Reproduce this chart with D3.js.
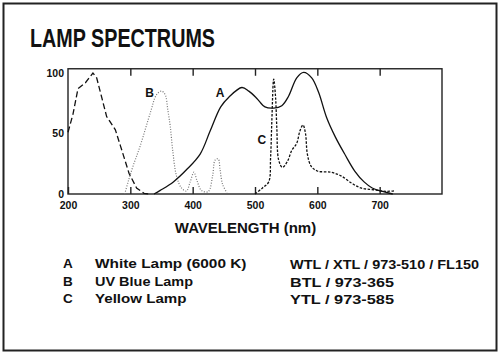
<!DOCTYPE html>
<html><head><meta charset="utf-8">
<script src="https://cdn.jsdelivr.net/npm/d3@7"></script>
<style>
html,body{margin:0;padding:0;background:#fff;}
svg{display:block;}
text{font-family:"Liberation Sans",Arial,Helvetica,sans-serif;font-weight:bold;fill:#111;}
</style></head>
<body><svg id="c" width="500" height="355"></svg>
<script>
// ---- data ----
const xTicks = [200, 300, 400, 500, 600, 700];
const xInnerTicks = [300, 400, 500, 600, 700];
const yTicks = [0, 50, 100];
const xDomain = [200, 800];
const yDomain = [0, 103.5];

// unlabeled short-wave lamp (long dashes)
const shortWave = [[200,51],[208,66],[216,87],[228,92],[240,100],[246,96],[254,80],[262,64],[276,53],[284,40],[298,17],[310,5],[322,0.5],[330,0]];
// B: UV Blue lamp (dotted)
const lampB = [[291,0],[297,11],[305,24],[316,40],[332,67],[342,82],[350,85],[356,82],[360,70],[364,56],[368,36],[374,15],[382,5],[390,2.5],[396,10],[402,18],[407,11],[414,3],[425,2],[432,15],[436,28],[441,29],[444,20],[448,8],[455,1]];
// A: White lamp (solid)
const lampA = [[338,0],[348,3],[369,10],[390,20],[412,33],[428,52],[445,72],[458,80],[479,88],[490,85],[503,79],[516,72],[530,71],[543,73],[554,81],[567,96],[578,100.5],[591,96],[602,84],[615,63],[629,47],[645,32],[660,19],[675,10],[688,5],[701,2.5],[721,0]];
// C: Yellow lamp (short dashes)
const lampC = [[500,0],[512,5],[522,10],[525,30],[527,60],[530,95],[533,80],[535,55],[538,28],[544,22],[552,27],[559,36],[567,42],[572,52],[577,57],[581,50],[584,33],[590,23],[600,19],[622,18],[638,15],[655,9],[670,5],[690,3.5],[710,2.2],[725,2.7]];

const curveLabels = [{t:"A", x:444, y:80}, {t:"B", x:331, y:80}, {t:"C", x:511, y:41}];

const legendKeys = ["A", "B", "C"];
const legendNames = ["White Lamp (6000 K)", "UV Blue Lamp", "Yellow Lamp"];
const legendCodes = ["WTL / XTL / 973-510 / FL150", "BTL / 973-365", "YTL / 973-585"];

// ---- drawing ----
const svg = d3.select("#c");
svg.append("rect").attr("x",3.5).attr("y",3.5).attr("width",493).attr("height",347)
  .attr("fill","none").attr("stroke","#222").attr("stroke-width",2);

svg.append("text").attr("x",30).attr("y",46.5).attr("font-size",26)
  .attr("textLength",185).attr("lengthAdjust","spacingAndGlyphs")
  .style("font-family","'Liberation Sans Narrow','Arial Narrow',sans-serif")
  .text("LAMP SPECTRUMS");

const x = d3.scaleLinear().domain(xDomain).range([68, 442]);
const y = d3.scaleLinear().domain([0,100]).range([194, 73]);

const g = svg.append("g");
// frame
g.append("rect").attr("x",x(xDomain[0])).attr("y",y(yDomain[1]))
  .attr("width",x(xDomain[1])-x(xDomain[0])).attr("height",y(0)-y(yDomain[1]))
  .attr("fill","none").attr("stroke","#222").attr("stroke-width",1.4);

// bottom axis (ticks inside)
const bx = g.append("g").attr("transform",`translate(0,${y(0)})`)
  .call(d3.axisBottom(x).tickValues(xTicks).tickSize(-7).tickPadding(15).tickFormat(d3.format("d")));
bx.select(".domain").remove();
bx.selectAll("line").attr("stroke","#222").attr("stroke-width",1.4);
bx.selectAll("text").attr("font-size",10.5).attr("fill","#111").attr("dy","0")
  .attr("y",15);
// top ticks
const tx = g.append("g").attr("transform",`translate(0,${y(yDomain[1])})`)
  .call(d3.axisTop(x).tickValues(xInnerTicks).tickSize(-7).tickFormat(""));
tx.select(".domain").remove();
tx.selectAll("line").attr("stroke","#222").attr("stroke-width",1.4);
// y labels
const ly = g.append("g").attr("transform",`translate(${x(xDomain[0])},0)`)
  .call(d3.axisLeft(y).tickValues(yTicks).tickSize(0).tickPadding(4).tickFormat(d3.format("d")));
ly.select(".domain").remove();
ly.selectAll("text").attr("font-size",10.5).attr("fill","#111").attr("dy","0.33em");

svg.append("text").attr("x",245.5).attr("y",232.5).attr("font-size",15)
  .attr("text-anchor","middle").text("WAVELENGTH (nm)");

const line = d3.line().x(d=>x(d[0])).y(d=>y(d[1])).curve(d3.curveCatmullRom.alpha(0.5));
const lineLin = d3.line().x(d=>x(d[0])).y(d=>y(d[1])).curve(d3.curveLinear);

g.append("path").attr("d",lineLin(shortWave)).attr("fill","none").attr("stroke","#111")
  .attr("stroke-width",1.3).attr("stroke-dasharray","6,3");
g.append("path").attr("d",line(lampB)).attr("fill","none").attr("stroke","#777")
  .attr("stroke-width",1.2).attr("stroke-dasharray","1,1.6");
g.append("path").attr("d",line(lampA)).attr("fill","none").attr("stroke","#111")
  .attr("stroke-width",1.3);
g.append("path").attr("d",line(lampC)).attr("fill","none").attr("stroke","#111")
  .attr("stroke-width",1.3).attr("stroke-dasharray","2.5,1.5");

g.selectAll(".cl").data(curveLabels).enter().append("text")
  .attr("x",d=>x(d.x)).attr("y",d=>y(d.y)).attr("font-size",12).attr("text-anchor","middle")
  .text(d=>d.t);

// legend
const rowY = [268.3, 285.5, 303.3];
const nameW = [151.5, 98, 91.5];
const codeW = [189, 104, 104];
legendKeys.forEach((k,i)=>{
  svg.append("text").attr("x",63).attr("y",rowY[i]).attr("font-size",13.5).text(k);
  svg.append("text").attr("x",95).attr("y",rowY[i]).attr("font-size",13.5)
    .attr("textLength",nameW[i]).attr("lengthAdjust","spacingAndGlyphs").text(legendNames[i]);
  svg.append("text").attr("x",290).attr("y",rowY[i]+1).attr("font-size",12.5)
    .attr("textLength",codeW[i]).attr("lengthAdjust","spacingAndGlyphs").text(legendCodes[i]);
});
</script></body></html>
